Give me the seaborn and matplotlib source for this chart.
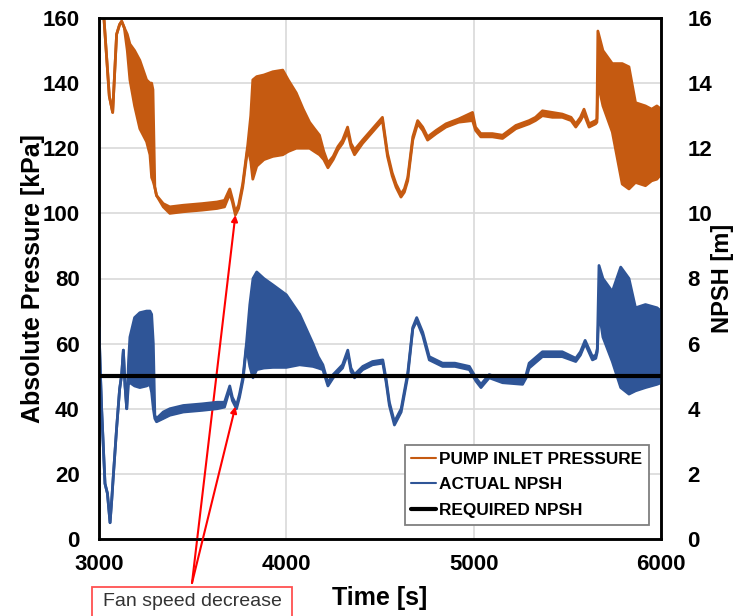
import numpy as np
import matplotlib
matplotlib.use("Agg")
import matplotlib.pyplot as plt
import seaborn as sns
from matplotlib.lines import Line2D
from matplotlib.patches import Rectangle

# Pump inlet pressure [kPa]: sample times with the upper / lower envelope of the signal
pressure_time = [3000, 3055, 3073, 3094, 3110, 3121, 3135, 3151, 3165, 3190,
                 3218, 3254, 3272, 3281, 3288, 3298, 3307, 3343, 3378, 3450,
                 3550, 3630, 3670, 3698, 3712, 3728, 3745, 3767, 3794, 3810,
                 3821, 3842, 3880, 3928, 3981, 4010, 4053, 4090, 4124, 4150,
                 4177, 4200, 4222, 4250, 4275, 4300, 4327, 4345, 4364, 4407,
                 4460, 4513, 4540, 4565, 4586, 4612, 4630, 4648, 4675, 4701,
                 4728, 4754, 4800, 4852, 4920, 4994, 5010, 5038, 5100, 5154,
                 5225, 5296, 5330, 5367, 5420, 5473, 5520, 5545, 5570, 5589,
                 5616, 5651, 5658, 5663, 5690, 5740, 5793, 5829, 5864, 5917,
                 5950, 5978, 6000]
pressure_high = [182, 136, 131, 155, 158, 159, 157, 155, 152, 150,
                 147, 141, 140, 140, 138, 108, 105.5, 103, 102, 102.5,
                 103, 103.5, 104, 107.5, 104.5, 100.5, 102.5, 109, 121, 130,
                 141, 142, 142.5, 143.5, 144, 141, 137, 132, 128, 126,
                 124, 119, 115.5, 117.5, 120.5, 122.5, 126.5, 121.5, 119.5, 122.5,
                 126, 129.5, 118.5, 112.5, 109, 106, 107.5, 111, 123.5, 128.5,
                 126.5, 123.5, 125.5, 127.5, 129, 131, 126.5, 124.5, 124.5, 124,
                 127, 128.5, 129.5, 131.5, 131, 130.5, 129.5, 127.5, 129.5, 132,
                 127.5, 128.5, 129, 156, 150, 146, 146, 145, 134, 133,
                 132, 133, 132]
pressure_low = [182, 136, 131, 155, 158, 159, 157, 150, 141, 133,
                126, 122, 118, 111, 110, 108, 105.5, 102, 100, 100.5,
                101, 101.5, 102, 106, 103.5, 99.5, 101.5, 108, 120, 116,
                110.5, 114.5, 116.5, 117.5, 118, 119, 120, 120, 120, 119,
                118, 116.5, 114, 116.5, 119.5, 121.5, 125, 120.5, 118, 121.5,
                125, 128.5, 117.5, 111.5, 108, 105, 106.5, 110, 122.5, 127.5,
                125.5, 122.5, 124.5, 126.5, 128, 128.5, 125.5, 123.5, 123.5, 123,
                126, 127.5, 128.5, 130, 129.5, 129.5, 128.5, 126.5, 128.5, 130.5,
                126.5, 127.5, 128, 140, 133, 125, 109, 107.5, 109.5, 108.5,
                110, 110.5, 112]

# Actual NPSH [m]: sample times with the upper / lower envelope of the signal
npsh_time = [3000, 3008, 3014, 3032, 3045, 3059, 3068, 3076, 3094, 3110,
             3121, 3130, 3139, 3148, 3158, 3165, 3190, 3218, 3254, 3272,
             3281, 3290, 3298, 3307, 3343, 3378, 3450, 3550, 3630, 3670,
             3698, 3712, 3734, 3750, 3769, 3787, 3805, 3822, 3842, 3880,
             3929, 4000, 4071, 4142, 4170, 4195, 4222, 4250, 4275, 4300,
             4328, 4345, 4364, 4408, 4460, 4515, 4533, 4550, 4577, 4613,
             4648, 4675, 4696, 4728, 4763, 4834, 4900, 4977, 5012, 5039,
             5083, 5154, 5261, 5280, 5296, 5367, 5473, 5545, 5570, 5595,
             5634, 5652, 5660, 5669, 5690, 5740, 5785, 5829, 5864, 5917,
             5979, 6000]
npsh_high = [6.5, 5.0, 4.0, 1.7, 1.4, 0.5, 1.2, 1.9, 3.4, 4.6,
             5.05, 5.8, 4.7, 4.0, 5.5, 6.2, 6.8, 6.95, 7.0, 7.0,
             6.9, 6.0, 3.8, 3.7, 3.9, 4.0, 4.1, 4.15, 4.2, 4.2,
             4.7, 4.35, 4.1, 4.45, 5.0, 6.0, 7.2, 8.0, 8.2, 8.0,
             7.8, 7.5, 6.9, 6.0, 5.6, 5.35, 4.8, 5.05, 5.2, 5.35,
             5.8, 5.25, 5.05, 5.3, 5.45, 5.5, 4.9, 4.2, 3.6, 4.0,
             5.1, 6.5, 6.8, 6.35, 5.6, 5.4, 5.4, 5.3, 4.95, 4.75,
             5.05, 4.9, 4.95, 5.05, 5.4, 5.75, 5.75, 5.55, 5.75, 6.1,
             5.6, 5.65, 5.85, 8.4, 8.0, 7.6, 8.35, 8.0, 7.1, 7.2,
             7.1, 7.0]
npsh_low = [6.5, 5.0, 4.0, 1.7, 1.4, 0.5, 1.2, 1.9, 3.4, 4.6,
            5.05, 5.8, 4.7, 4.0, 4.8, 4.8, 4.7, 4.65, 4.7, 4.75,
            4.5, 4.0, 3.7, 3.6, 3.7, 3.8, 3.9, 3.95, 4.0, 4.05,
            4.6, 4.25, 4.0, 4.35, 4.9, 5.9, 5.3, 4.95, 5.2, 5.25,
            5.27, 5.27, 5.35, 5.3, 5.25, 5.2, 4.7, 4.95, 5.1, 5.25,
            5.7, 5.15, 4.95, 5.2, 5.35, 5.4, 4.8, 4.1, 3.5, 3.9,
            5.0, 6.45, 6.7, 6.25, 5.5, 5.3, 5.3, 5.2, 4.85, 4.65,
            4.95, 4.8, 4.75, 4.95, 5.25, 5.6, 5.6, 5.45, 5.65, 6.0,
            5.5, 5.55, 5.75, 7.0, 6.2, 5.45, 4.65, 4.45, 4.55, 4.65,
            4.75, 4.8]

required_npsh = 5.0
time_ticks = [3000, 4000, 5000, 6000]
pressure_ticks = [0, 20, 40, 60, 80, 100, 120, 140, 160]
npsh_ticks = [0, 2, 4, 6, 8, 10, 12, 14, 16]
series_labels = ["PUMP INLET PRESSURE", "ACTUAL NPSH", "REQUIRED NPSH"]
fan_event_time = 3728
fan_event_text = "Fan speed decrease"

ORANGE = "#C55A11"
BLUE = "#2F5597"

sns.set_theme(style="white")
plt.rcParams["font.family"] = ["Liberation Sans", "DejaVu Sans"]

W, H, DPI = 737, 616, 100
fig = plt.figure(figsize=(W / DPI, H / DPI), dpi=DPI)
ax = fig.add_axes([99 / W, 1 - 539 / H, 562 / W, 521 / H])
ax2 = ax.twinx()


def draw_band(axis, t, hi, lo, color):
    t = np.asarray(t, float)
    hi = np.asarray(hi, float)
    lo = np.asarray(lo, float)
    axis.fill_between(t, lo, hi, color=color, lw=0)
    sns.lineplot(x=t, y=hi, ax=axis, color=color, lw=2.0, estimator=None)
    sns.lineplot(x=t, y=lo, ax=axis, color=color, lw=2.0, estimator=None)


draw_band(ax, pressure_time, pressure_high, pressure_low, ORANGE)
draw_band(ax2, npsh_time, npsh_high, npsh_low, BLUE)
sns.lineplot(x=[time_ticks[0], time_ticks[-1]], y=[required_npsh, required_npsh],
             ax=ax2, color="black", lw=3)

ax.set_xlim(time_ticks[0], time_ticks[-1])
ax.set_ylim(pressure_ticks[0], pressure_ticks[-1])
ax2.set_ylim(npsh_ticks[0], npsh_ticks[-1])
ax.set_xticks(time_ticks)
ax.set_yticks(pressure_ticks)
ax2.set_yticks(npsh_ticks)

ax.grid(True, color="#d9d9d9", lw=1.2)
ax.set_axisbelow(True)
ax2.grid(False)

tick_font = dict(fontsize=16, fontweight="bold")
ax.set_xticklabels([str(v) for v in time_ticks], **tick_font)
ax.set_yticklabels([str(v) for v in pressure_ticks], **tick_font)
ax2.set_yticklabels([str(v) for v in npsh_ticks], **tick_font)
ax.tick_params(axis="x", length=0, pad=11, colors="black")
ax.tick_params(axis="y", length=0, pad=14, colors="black")
ax2.tick_params(axis="y", length=0, pad=19, colors="black")

for a in (ax, ax2):
    for s in a.spines.values():
        s.set_color("black")
        s.set_linewidth(1.8)

label_font = dict(fontweight="bold", color="black")
ax.set_xlabel("Time [s]", fontsize=18, **label_font)
ax.set_ylabel("Absolute Pressure [kPa]", fontsize=18, **label_font)
ax2.set_ylabel("NPSH [m]", rotation=90, fontsize=17, **label_font)
ax.xaxis.set_label_coords(0.5, (539 - 598) / 521)
ax.xaxis.label.set_va("center")
ax.yaxis.set_label_coords((33 - 99) / 562, 0.5)
ax.yaxis.label.set_va("center")
ax2.yaxis.set_label_coords((722 - 99) / 562, 0.5)
ax2.yaxis.label.set_va("center")

handles = [Line2D([], [], color=ORANGE, lw=1.5),
           Line2D([], [], color=BLUE, lw=1.5),
           Line2D([], [], color="black", lw=3)]
leg = ax2.legend(handles, series_labels, loc="lower right",
                 bbox_to_anchor=(0.9786, 0.027), borderaxespad=0,
                 prop=dict(family="Liberation Sans", weight="bold", size=12.4),
                 handlelength=1.45, handletextpad=0.15, labelspacing=0.62,
                 borderpad=0.4, frameon=True, fancybox=False, framealpha=1)
leg.get_frame().set_edgecolor("#7f7f7f")
leg.get_frame().set_linewidth(1.3)
for txt in leg.get_texts():
    txt.set_color("black")

# Annotation pointing at the fan speed change on both curves
start = (192, H - 583)
p_target = np.interp(fan_event_time, pressure_time, pressure_low)
n_target = np.interp(fan_event_time, npsh_time, npsh_low)
arrow = dict(arrowstyle="-|>", color="red", lw=1.5, mutation_scale=9,
             shrinkA=0, shrinkB=0)
ax.annotate("", xy=(fan_event_time, p_target), xycoords="data",
            xytext=start, textcoords="figure pixels", arrowprops=arrow,
            annotation_clip=False)
ax2.annotate("", xy=(fan_event_time, n_target), xycoords="data",
             xytext=start, textcoords="figure pixels", arrowprops=arrow,
             annotation_clip=False)

fig.patches.append(Rectangle((92 / W, -0.05), 200 / W, (616 - 587) / H + 0.05,
                             transform=fig.transFigure, facecolor="white",
                             edgecolor="#ff5050", lw=1.3, zorder=5))
fig.text(192 / W, 1 - 601 / H, fan_event_text, ha="center", va="center",
         fontsize=14, color="#333333", zorder=6)

fig.savefig("out.png", dpi=DPI)
